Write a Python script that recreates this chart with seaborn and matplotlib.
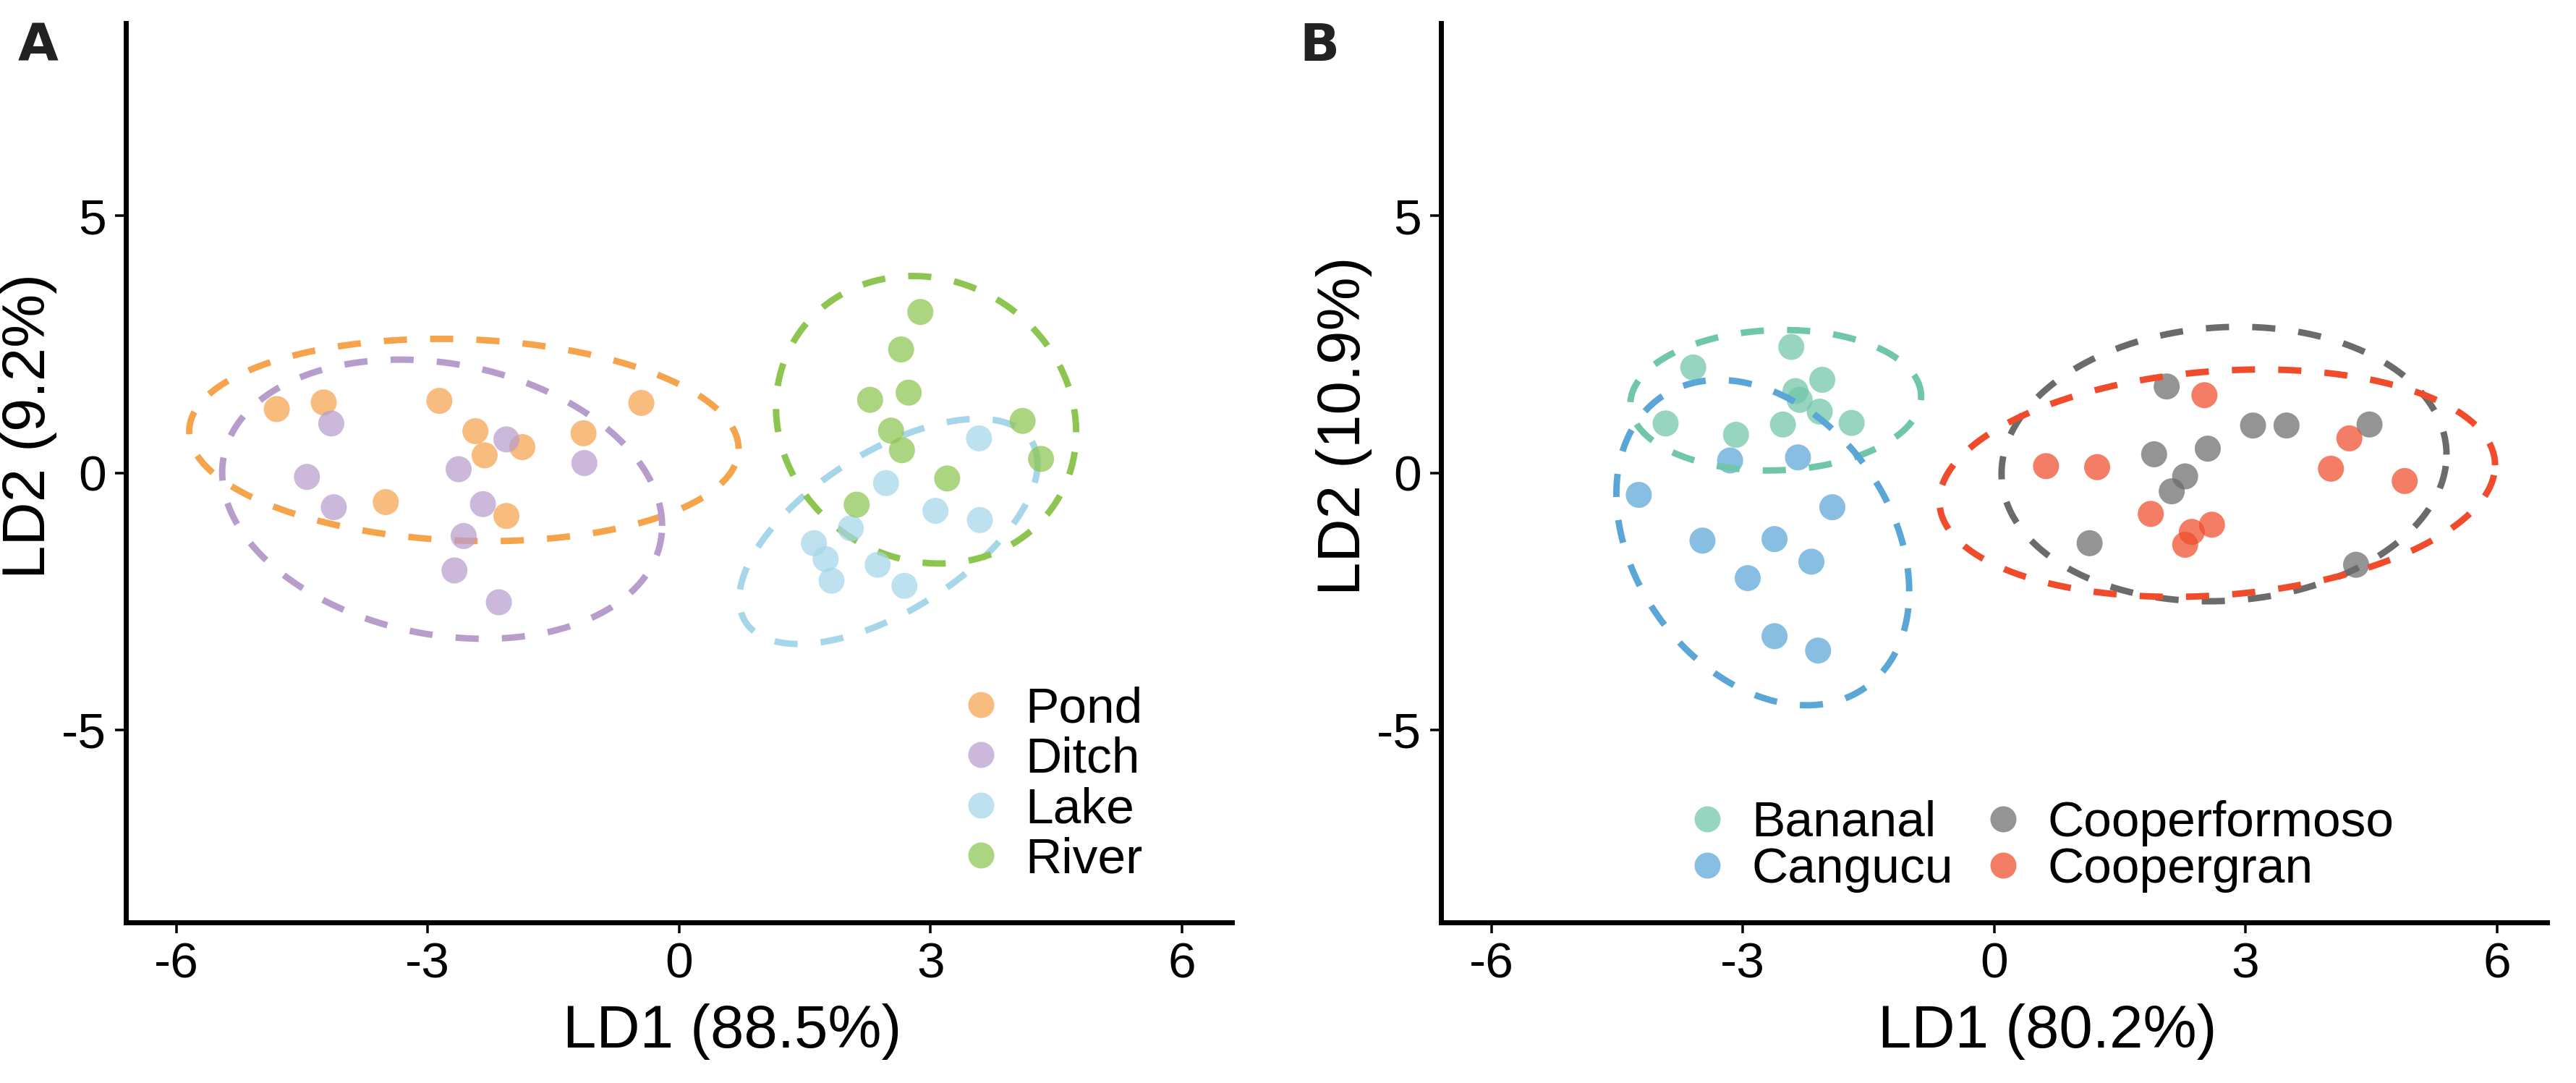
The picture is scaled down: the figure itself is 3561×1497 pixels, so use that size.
import numpy as np
import pandas as pd
import matplotlib.pyplot as plt
import seaborn as sns
from matplotlib.lines import Line2D

# LD scores (10 samples per group)
habitats = ["Pond", "Ditch", "Lake", "River"]
pond_ld1 = [-4.80, -4.24, -2.86, -2.43, -2.32, -1.87, -2.06, -3.50, -1.14, -0.45]
pond_ld2 = [1.24, 1.37, 1.40, 0.81, 0.34, 0.50, -0.84, -0.57, 0.77, 1.36]
ditch_ld1 = [-4.15, -4.44, -4.12, -2.63, -2.06, -2.34, -2.57, -2.68, -2.15, -1.13]
ditch_ld2 = [0.96, -0.08, -0.67, 0.07, 0.65, -0.61, -1.23, -1.90, -2.52, 0.19]
lake_ld1 = [1.61, 1.75, 1.82, 2.05, 2.37, 2.47, 2.69, 3.06, 3.59, 3.58]
lake_ld2 = [-1.37, -1.68, -2.10, -1.08, -1.79, -0.20, -2.20, -0.74, -0.92, 0.67]
river_ld1 = [2.88, 2.65, 2.74, 2.28, 2.53, 2.66, 2.12, 3.20, 4.10, 4.32]
river_ld2 = [3.13, 2.40, 1.56, 1.42, 0.82, 0.44, -0.62, -0.11, 1.01, 0.27]

sites = ["Bananal", "Cangucu", "Cooperformoso", "Coopergran"]
bananal_ld1 = [-2.42, -3.59, -3.92, -3.08, -2.52, -2.37, -2.32, -2.05, -2.08, -1.70]
bananal_ld2 = [2.45, 2.05, 0.96, 0.74, 0.94, 1.59, 1.42, 1.81, 1.19, 0.97]
cangucu_ld1 = [-3.15, -2.34, -4.24, -1.93, -3.48, -2.62, -2.94, -2.18, -2.62, -2.10]
cangucu_ld2 = [0.24, 0.30, -0.43, -0.67, -1.32, -1.29, -2.05, -1.73, -3.18, -3.46]
cooperformoso_ld1 = [2.06, 1.91, 2.55, 2.28, 2.12, 3.09, 3.49, 4.48, 1.14, 4.32]
cooperformoso_ld2 = [1.68, 0.36, 0.47, -0.07, -0.36, 0.92, 0.92, 0.94, -1.37, -1.79]
coopergran_ld1 = [0.62, 1.23, 2.51, 1.87, 2.36, 2.28, 2.60, 4.02, 4.24, 4.90]
coopergran_ld2 = [0.13, 0.11, 1.51, -0.80, -1.15, -1.40, -1.01, 0.08, 0.67, -0.16]

habitat_colors = ["#F6A44C", "#B79DCC", "#A6D6E9", "#8CC650"]
site_colors = ["#6FC6A9", "#5AA6D6", "#6B6B6B", "#F04B2B"]

x_ticks = [-6, -3, 0, 3, 6]
y_ticks = [-5, 0, 5]


def make_df(names, xs, ys):
    parts = []
    for name, x, y in zip(names, xs, ys):
        parts.append(pd.DataFrame({"LD1": x, "LD2": y, "group": name}))
    return pd.concat(parts, ignore_index=True)


df_a = make_df(habitats, [pond_ld1, ditch_ld1, lake_ld1, river_ld1],
               [pond_ld2, ditch_ld2, lake_ld2, river_ld2])
df_b = make_df(sites, [bananal_ld1, cangucu_ld1, cooperformoso_ld1, coopergran_ld1],
               [bananal_ld2, cangucu_ld2, cooperformoso_ld2, coopergran_ld2])


def data_ellipse(x, y, level=0.9, segments=200):
    # same idea as ggplot stat_ellipse(type = "norm")
    xy = np.column_stack([x, y])
    center = xy.mean(axis=0)
    shape = np.cov(xy, rowvar=False)
    k = len(x) - 1
    radius = np.sqrt(k * ((1 - level) ** (-2 / k) - 1))
    t = np.linspace(0, 2 * np.pi, segments)
    circle = np.column_stack([np.cos(t), np.sin(t)])
    chol = np.linalg.cholesky(shape).T
    return center + radius * circle @ chol


sns.set_theme(style="ticks")
plt.rcParams['font.family'] = ['Liberation Sans', 'DejaVu Sans']
plt.rcParams['axes.unicode_minus'] = False
plt.rcParams['text.color'] = 'black'
plt.rcParams['axes.labelcolor'] = 'black'

fig = plt.figure(figsize=(17.805, 7.485), dpi=200)
ax_a = fig.add_axes([0.0489, 0.1483, 0.4294, 0.8303])
ax_b = fig.add_axes([0.5594, 0.1483, 0.4294, 0.8303])


def draw_panel(ax, df, names, colors, lines_on_top, xlabel, ylabel):
    pal = dict(zip(names, colors))
    pts_z, line_z = (2, 3) if lines_on_top else (3, 2)
    sns.scatterplot(data=df, x="LD1", y="LD2", hue="group", hue_order=names,
                    palette=pal, s=168, alpha=0.72, linewidth=0,
                    legend=False, ax=ax, zorder=pts_z)
    for name in names:
        sub = df[df["group"] == name]
        ell = data_ellipse(sub["LD1"].values, sub["LD2"].values)
        ax.plot(ell[:, 0], ell[:, 1], color=pal[name], lw=3.2,
                dashes=(3.6, 3.6), zorder=line_z)
    ax.set_xlim(-6.6, 6.6)
    ax.set_ylim(-8.75, 8.75)
    ax.set_xticks(x_ticks)
    ax.set_yticks(y_ticks)
    ax.tick_params(direction='out', length=5.4, width=1.26, pad=4.3,
                   labelsize=25, colors='black')
    for side in ['left', 'bottom']:
        ax.spines[side].set_linewidth(2.5)
        ax.spines[side].set_color('black')
    sns.despine(ax=ax)
    ax.set_xlabel(xlabel, fontsize=30)
    ax.set_ylabel(ylabel, fontsize=30)
    ax.xaxis.set_label_coords(0.548, -0.09)
    ax.yaxis.set_label_coords(-0.062, 0.552)
    handles = [Line2D([], [], marker='o', ls='', markersize=12.96,
                      markerfacecolor=c, markeredgewidth=0, alpha=0.72)
               for c in colors]
    return handles


h_a = draw_panel(ax_a, df_a, habitats, habitat_colors, False,
                 "LD1 (88.5%)", "LD2 (9.2%)")
ax_a.legend(h_a, habitats, loc='upper left', bbox_to_anchor=(0.750, 0.263),
            frameon=False, fontsize=25, handlelength=1.0, handletextpad=0.38,
            labelspacing=0.08, borderaxespad=0, borderpad=0)

h_b = draw_panel(ax_b, df_b, sites, site_colors, True,
                 "LD1 (80.2%)", "LD2 (10.9%)")
ax_b.legend(h_b, sites, loc='upper left', bbox_to_anchor=(0.218, 0.136),
            ncol=2, columnspacing=0.5, frameon=False, fontsize=25,
            handlelength=1.0, handletextpad=0.38, labelspacing=0.0,
            borderaxespad=0, borderpad=0)

fig.text(0.0149, 0.957, "A", fontsize=26, fontweight='bold', ha='center',
         va='center', color='#222222', family='DejaVu Sans')
fig.text(0.5123, 0.957, "B", fontsize=26, fontweight='bold', ha='center',
         va='center', color='#222222', family='DejaVu Sans')

fig.savefig("out.png", dpi=200)
